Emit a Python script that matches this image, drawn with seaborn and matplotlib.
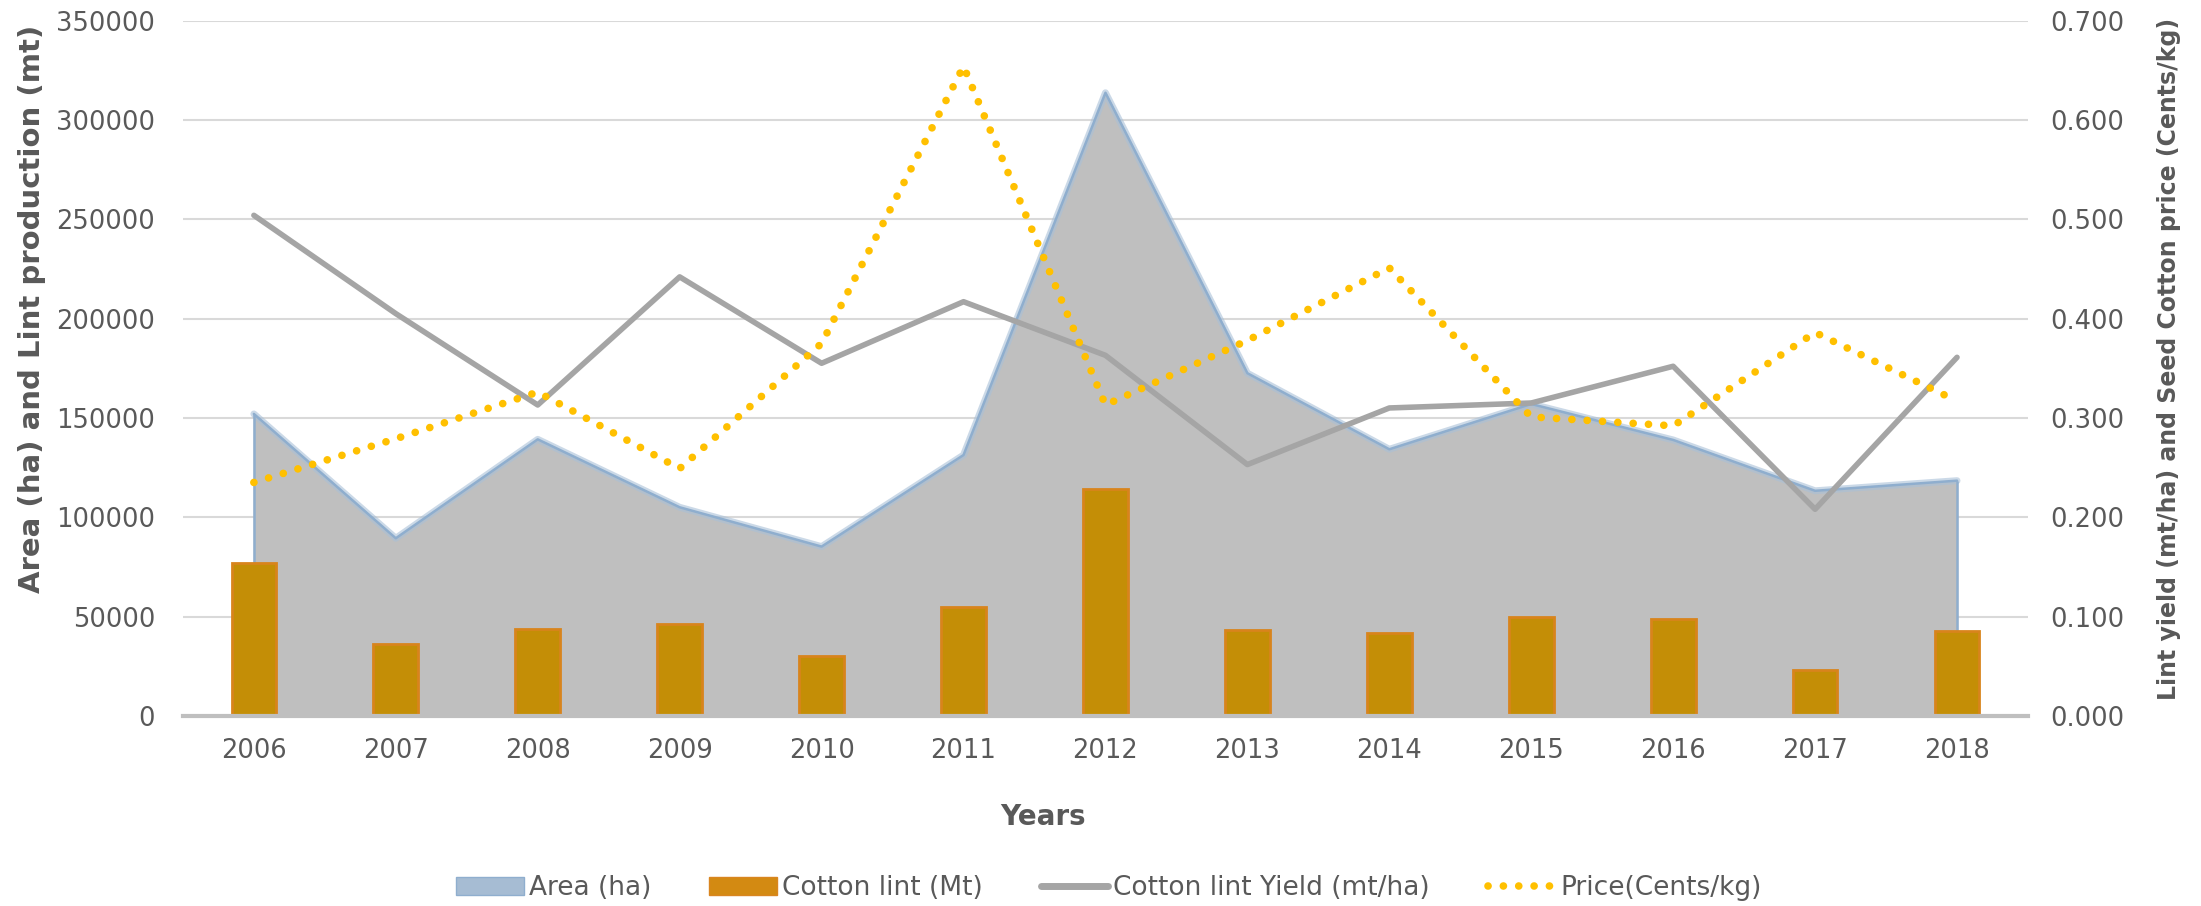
import numpy as np
import pandas as pd
import matplotlib.pyplot as plt
import seaborn as sns
from matplotlib.patches import Patch
from matplotlib.lines import Line2D

# values
years = ['2006', '2007', '2008', '2009', '2010', '2011', '2012',
         '2013', '2014', '2015', '2016', '2017', '2018']
area_ha = [152000, 89400, 139200, 105000, 85200, 131300, 313700,
           172500, 134200, 157000, 138900, 113300, 118400]
lint_mt = [76800, 36300, 43700, 46200, 30300, 54600, 114400,
           43200, 41500, 49900, 48900, 23200, 42700]
lint_yield = [0.504, 0.405, 0.313, 0.442, 0.355, 0.417, 0.363,
              0.253, 0.310, 0.315, 0.352, 0.208, 0.361]
price = [0.235, 0.279, 0.326, 0.249, 0.375, 0.654, 0.313,
         0.378, 0.451, 0.301, 0.292, 0.386, 0.317]

df = pd.DataFrame({'year': years, 'area': area_ha, 'lint': lint_mt,
                   'yield': lint_yield, 'price': price})
df['pos'] = np.arange(len(df))

sns.set_style('white')
plt.rcParams['font.family'] = ['DejaVu Sans']
tick_col = '#595959'

fig = plt.figure(figsize=(22.01, 9.06), dpi=100)
ax = fig.add_axes([0.0831, 0.2099, 0.8383, 0.7673])

# area (ha) as a filled area behind everything, soft blue rim
ax.fill_between(df['pos'], df['area'], 0, color='#BFBFBF', zorder=1)
ax.plot(df['pos'], df['area'], color='#A9C0D8', lw=5, alpha=0.6, zorder=1.4)
ax.plot(df['pos'], df['area'], color='#8FAECE', lw=1.8, zorder=1.5)
ax.vlines([df['pos'].iloc[0], df['pos'].iloc[-1]], 0,
          [df['area'].iloc[0], df['area'].iloc[-1]], color='#8FAECE', lw=1.8, zorder=1.5)

# cotton lint bars
sns.barplot(data=df, x='pos', y='lint', color='#C48E06', width=0.315,
            edgecolor='#D8841C', linewidth=2, saturation=1, ax=ax, zorder=2,
            native_scale=True)

ax.set_xlim(-0.5, 12.5)
ax.set_ylim(0, 350000)
ax.set_yticks(np.arange(0, 350001, 50000))
ax.set_yticklabels([str(v) for v in range(0, 350001, 50000)])
ax.set_xticks(df['pos'])
ax.set_xticklabels(years)
ax.yaxis.grid(True, color='#D9D9D9', lw=1.5, zorder=0)
ax.set_axisbelow(True)
for s in ['top', 'right', 'left']:
    ax.spines[s].set_visible(False)
ax.spines['bottom'].set_color('#BFBFBF')
ax.spines['bottom'].set_linewidth(3)
ax.spines['bottom'].set_zorder(3)
ax.tick_params(axis='both', length=0, labelsize=18.5, colors=tick_col)
ax.tick_params(axis='y', pad=20)
ax.tick_params(axis='x', pad=16)
ax.set_xlabel('')
ax.set_ylabel('')

# yield and price on the secondary axis
ax2 = ax.twinx()
sns.lineplot(data=df, x='pos', y='yield', color='#A5A5A5', lw=4, ax=ax2,
             solid_capstyle='round')
sns.lineplot(data=df, x='pos', y='price', color='#FFC000', lw=5.5, ax=ax2,
             dashes=False)
ax2.lines[-1].set_linestyle((0, (0.01, 2.0)))
ax2.lines[-1].set_dash_capstyle('round')
ax2.set_ylim(0, 0.7)
ax2.set_yticks(np.arange(0, 0.71, 0.1))
ax2.set_yticklabels(['%.3f' % v for v in np.arange(0, 0.71, 0.1)])
ax2.tick_params(axis='y', length=0, labelsize=18.5, colors=tick_col, pad=16)
for s in ax2.spines.values():
    s.set_visible(False)
ax2.set_xlim(-0.5, 12.5)
ax2.set_xlabel('')
ax2.set_ylabel('')

# axis titles
fig.text(32 / 2201, 1 - 309 / 906, 'Area (ha) and Lint production (mt)',
         rotation=90, ha='center', va='center', fontsize=21, fontweight='bold',
         color=tick_col)
fig.text(2169 / 2201, 1 - 359 / 906, 'Lint yield (mt/ha) and Seed Cotton price (Cents/kg)',
         rotation=90, ha='center', va='center', fontsize=17, fontweight='bold',
         color=tick_col)
fig.text(1043 / 2201, 1 - 817 / 906, 'Years', ha='center', va='center',
         fontsize=20, fontweight='bold', color=tick_col)

handles = [
    Patch(facecolor='#A6BCD3', edgecolor='#8FAECE'),
    Patch(facecolor='#D38A12', edgecolor='#D98520'),
    Line2D([0], [0], color='#A5A5A5', lw=5),
    Line2D([0], [0], color='#FFC000', lw=5.5, linestyle=(0, (0.01, 2.0)),
           dash_capstyle='round'),
]
labels = ['Area (ha)', 'Cotton lint (Mt)', 'Cotton lint Yield (mt/ha)', 'Price(Cents/kg)']
fig.legend(handles, labels, loc='center', bbox_to_anchor=(1109 / 2201, 1 - 888 / 906),
           ncol=4, frameon=False, prop={'size': 19},
           labelcolor=tick_col, handlelength=2.55, handletextpad=0.2, columnspacing=2.2)

fig.savefig('out.png', dpi=100)
